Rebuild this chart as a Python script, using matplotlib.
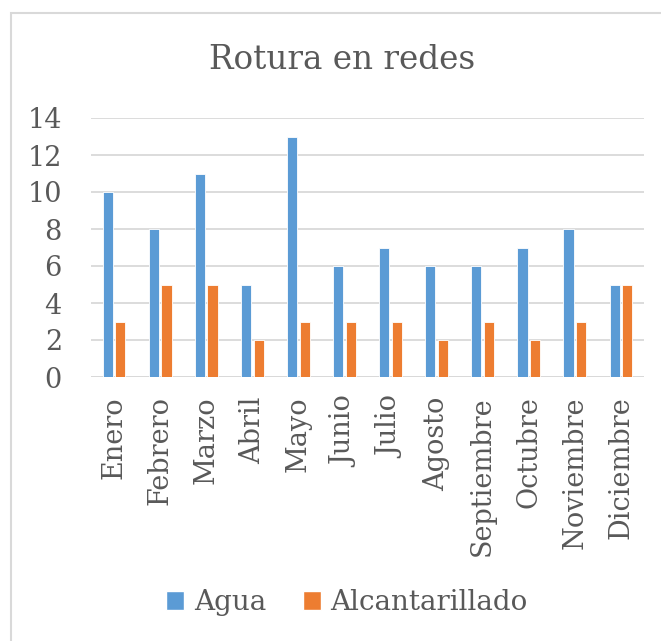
import matplotlib
matplotlib.use("Agg")
import matplotlib.pyplot as plt
import numpy as np
from matplotlib.patches import Rectangle, Patch

months = ["Enero", "Febrero", "Marzo", "Abril", "Mayo", "Junio", "Julio",
          "Agosto", "Septiembre", "Octubre", "Noviembre", "Diciembre"]
agua = [10, 8, 11, 5, 13, 6, 7, 6, 6, 7, 8, 5]
alcantarillado = [3, 5, 5, 2, 3, 3, 3, 2, 3, 2, 3, 5]
series_names = ["Agua", "Alcantarillado"]
yticks = [0, 2, 4, 6, 8, 10, 12, 14]

BLUE = "#5B9BD5"
ORANGE = "#ED7D31"
TXT = "#595959"
GRID = "#D9D9D9"

plt.rcParams['font.family'] = ['DejaVu Serif']

W, H = 661, 641
fig = plt.figure(figsize=(W/100, H/100), dpi=100)

def fx(px): return px / W
def fy(py): return 1 - py / H

# outer border
fig.patches.append(Rectangle((fx(11), fy(700)), fx(700), fy(13) - fy(700),
                             transform=fig.transFigure, fill=False,
                             edgecolor="#D9D9D9", linewidth=1.5))

ax = fig.add_axes([fx(91), fy(377), fx(644) - fx(91), fy(118) - fy(377)])
x = np.arange(len(months))
bw = 0.22
off = 0.137
ax.bar(x - off, agua, bw, color=BLUE, edgecolor="white", linewidth=0.6, zorder=3)
ax.bar(x + off, alcantarillado, bw, color=ORANGE, edgecolor="white", linewidth=0.6, zorder=3)

ax.set_xlim(-0.5, len(months) - 0.5)
ax.set_ylim(0, 14)
ax.set_yticks(yticks)
ax.set_yticklabels([str(v) for v in yticks])
ax.grid(axis="y", color=GRID, linewidth=1.3, zorder=0)
ax.set_axisbelow(True)
for s in ax.spines.values():
    s.set_visible(False)
ax.axhline(0, color=GRID, linewidth=1.3, zorder=1)
ax.set_xticks(x)
ax.set_xticklabels(months, rotation=90, va="top", ha="center")
ax.tick_params(axis="both", length=0, colors=TXT, labelsize=19.5)
ax.tick_params(axis="y", pad=21)
ax.tick_params(axis="x", pad=14)
for t in ax.get_yticklabels() + ax.get_xticklabels():
    t.set_color(TXT)

fig.text(fx(342), fy(69), "Rotura en redes", ha="center", va="baseline",
         fontsize=23.5, color=TXT)

handles = [Patch(facecolor=BLUE, edgecolor="white"), Patch(facecolor=ORANGE, edgecolor="white")]
fig.legend(handles, series_names, loc="center", bbox_to_anchor=(fx(347), fy(603)),
           ncol=2, frameon=False, fontsize=20, labelcolor=TXT,
           handlelength=0.65, handleheight=0.65, handletextpad=0.36, columnspacing=1.3)

fig.savefig("out.png", dpi=100, facecolor="white")
